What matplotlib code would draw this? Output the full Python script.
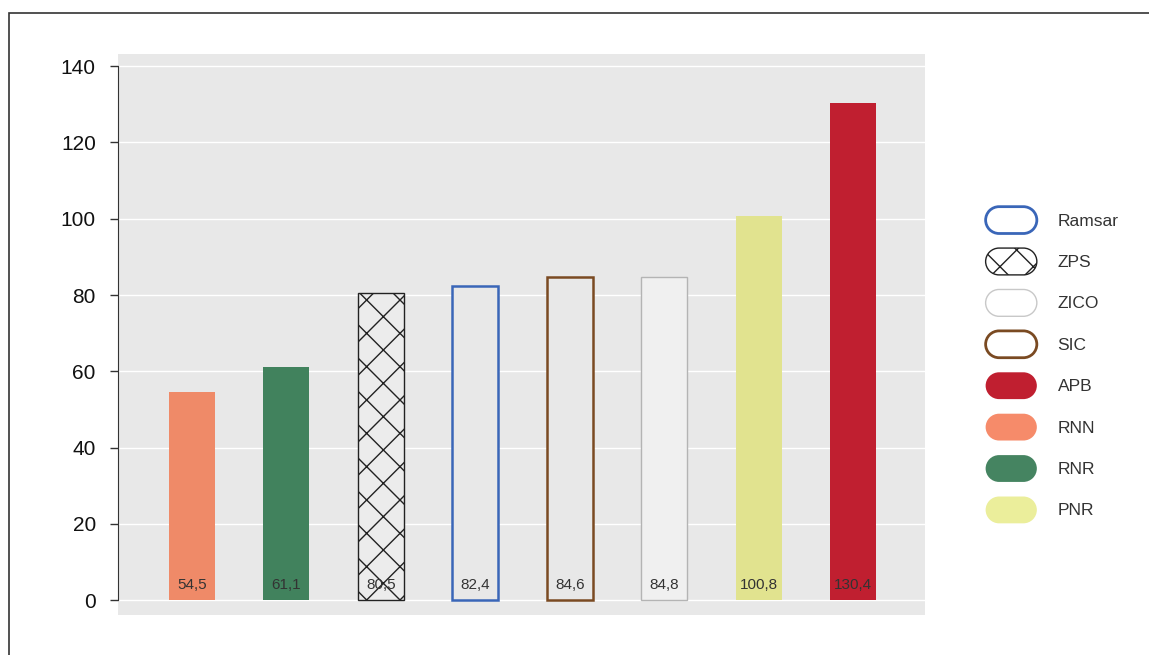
import matplotlib
matplotlib.use("Agg")
import matplotlib.pyplot as plt
import numpy as np
from matplotlib.patches import Patch, PathPatch, Rectangle
from matplotlib.path import Path
from matplotlib.legend_handler import HandlerPatch

plt.rcParams['font.family'] = ['Liberation Sans', 'DejaVu Sans']
plt.rcParams['hatch.linewidth'] = 1.0

# bars, sorted by value
categories = ['RNN', 'RNR', 'ZPS', 'Ramsar', 'SIC', 'ZICO', 'PNR', 'APB']
values = [54.5, 61.1, 80.5, 82.4, 84.6, 84.8, 100.8, 130.4]
value_labels = ['54,5', '61,1', '80,5', '82,4', '84,6', '84,8', '100,8', '130,4']
legend_order = ['Ramsar', 'ZPS', 'ZICO', 'SIC', 'APB', 'RNN', 'RNR', 'PNR']
yticks = [0, 20, 40, 60, 80, 100, 120, 140]

# face, edge, hatch for bar ; face for legend
styles = {
    'RNN':    dict(face='#ef8a68', edge='none', hatch=None, lface='#f68b6a', ledge='none'),
    'RNR':    dict(face='#41825d', edge='none', hatch=None, lface='#458461', ledge='none'),
    'ZPS':    dict(face='#ececec', edge='#222222', hatch='x', lface='white', ledge='#222222'),
    'Ramsar': dict(face='#e8e8e8', edge='#3a66b8', hatch=None, lface='white', ledge='#3a66b8'),
    'SIC':    dict(face='#e8e8e8', edge='#7a4a22', hatch=None, lface='white', ledge='#7a4a22'),
    'ZICO':   dict(face='#f0f0f0', edge='#b4b4b4', hatch=None, lface='white', ledge='#c8c8c8'),
    'PNR':    dict(face='#e1e38f', edge='none', hatch=None, lface='#ebee9b', ledge='none'),
    'APB':    dict(face='#c01f30', edge='none', hatch=None, lface='#c01f30', ledge='none'),
}


def stadium(x0, y0, w, h):
    r = h / 2
    a1 = Path.arc(-90, 90)
    a2 = Path.arc(90, 270)
    v1 = a1.vertices * r + [x0 + w - r, y0 + r]
    v2 = a2.vertices * r + [x0 + r, y0 + r]
    c2 = a2.codes.copy()
    c2[0] = Path.LINETO
    verts = np.vstack([v1, v2, v1[:1]])
    codes = np.concatenate([a1.codes, c2, [Path.CLOSEPOLY]])
    return Path(verts, codes)


class HandlerPill(HandlerPatch):
    def create_artists(self, legend, orig_handle, xdescent, ydescent,
                       width, height, fontsize, trans):
        p = PathPatch(stadium(-xdescent, -ydescent, width, height))
        p.update_from(orig_handle)
        p.set_transform(trans)
        return [p]


fig = plt.figure(figsize=(11.49, 6.55), dpi=100)
ax = fig.add_axes([118 / 1149, 1 - 615 / 655, (925 - 118) / 1149, (615 - 54) / 655])
ax.set_facecolor('#e8e8e8')

for i, cat in enumerate(categories):
    s = styles[cat]
    ax.bar(i, values[i], width=0.49, color=s['face'], edgecolor=s['edge'],
           hatch=s['hatch'], linewidth=1.8 if cat in ('Ramsar', 'SIC') else 1.0,
           zorder=3)
    ax.text(i, 3.9, value_labels[i], ha='center', va='center', fontsize=11,
            color='#333333', zorder=4)

ax.set_xlim(-0.78, 7.76)
ax.set_ylim(-3.9, 143.2)
ax.set_yticks(yticks)
ax.set_xticks([])
ax.yaxis.grid(True, color='white', linewidth=1.0, zorder=0)
ax.set_axisbelow(True)
for side in ['top', 'right', 'bottom']:
    ax.spines[side].set_visible(False)
ax.spines['left'].set_bounds(0, 140)
ax.spines['left'].set_color('#333333')
ax.tick_params(axis='y', length=6, width=1, color='#333333', labelsize=15,
               labelcolor='#111111', pad=10)

handles = []
for cat in legend_order:
    s = styles[cat]
    h = Patch(facecolor=s['lface'], edgecolor=s['ledge'], hatch=s['hatch'],
              linewidth=2.0 if cat in ('Ramsar', 'SIC') else 1.0, label=cat)
    handles.append(h)
fig.legend(handles=handles, handler_map={Patch: HandlerPill()},
           loc='center left', bbox_to_anchor=(970 / 1149, 1 - 365 / 655),
           frameon=False, fontsize=12.5, labelcolor='#333333',
           handlelength=2.95, handleheight=2.0, labelspacing=0.84,
           handletextpad=1.2)

# outer frame
fig.patches.append(Rectangle((9 / 1149, -0.1), 1.2, 1.1 - 13 / 655,
                             transform=fig.transFigure, fill=False,
                             edgecolor='#333333', linewidth=1.2))

fig.savefig('out.png', dpi=100)
